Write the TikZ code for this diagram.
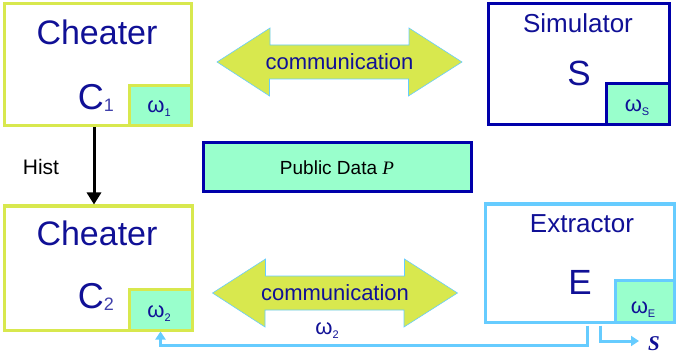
\documentclass[tikz,border=0pt]{standalone}
\usepackage{fontspec}
\setmainfont{Liberation Sans}
\newfontfamily\serifface{Liberation Serif}
\usetikzlibrary{calc, arrows.meta}
\definecolor{chgreen}{RGB}{216,232,78}
\definecolor{mint}{RGB}{153,255,204}
\definecolor{navy}{RGB}{0,0,170}
\definecolor{ink}{RGB}{16,16,150}
\definecolor{sky}{RGB}{102,204,255}
\newcommand{\fsize}[1]{\fontsize{#1}{#1}\selectfont}

\begin{document}
\begin{tikzpicture}[x=1pt, y=-1pt, line join=miter,
        box/.style = {draw, line width=3pt, fill=white, inner sep=0pt},
        keybox/.style = {draw, line width=3pt, fill=mint, inner sep=0pt, anchor=south east},
        title/.style = {text=ink, inner sep=0pt},
        commarrow/.style = {fill=chgreen, draw=sky, line width=0.6pt},
        feed/.style = {draw=sky, line width=3pt, -{Triangle[length=8pt, width=10pt]}}]
    \useasboundingbox (0,0) rectangle (676,355);

    % parties
    \node [box, draw=chgreen, minimum width=187, minimum height=122] (cheat1) at (97.5,65) {};
    \node [keybox, draw=chgreen, minimum width=62, minimum height=40] (w1) at (cheat1.south east) {};
    \node [box, draw=navy, minimum width=181, minimum height=121] (sim) at (578.5,64.5) {};
    \node [keybox, draw=navy, minimum width=63, minimum height=41] (ws) at (sim.south east) {};
    \node [box, draw=chgreen, minimum width=188, minimum height=124] (cheat2) at (98,268) {};
    \node [keybox, draw=chgreen, minimum width=63, minimum height=41] (w2) at (cheat2.south east) {};
    \node [box, draw=sky, minimum width=189, minimum height=118] (ext) at (579.5,263) {};
    \node [keybox, draw=sky, minimum width=59, minimum height=42] (we) at (ext.south east) {};
    \node [box, draw=navy, fill=mint, minimum width=268, minimum height=49] (pub) at (337,167.5)
        {\fsize{19}Public Data {\serifface\itshape P}};

    % labels
    \node [title] (cheat1t) at (97,32) {\fsize{34}Cheater};
    \node [title, anchor=base] (c1) at (96,110) {\fsize{36}C\raisebox{-2pt}{\fsize{18}\color{ink!80}1}};
    \node [title, anchor=base] (w1t) at (159,113) {\fsize{22}ω\raisebox{-4pt}{\fsize{11}1}};
    \node [title] (simt) at (578,23) {\fsize{26}Simulator};
    \node [title] (simS) at (579,73) {\fsize{35}S};
    \node [title, anchor=base] (wst) at (637,112) {\fsize{22}ω\raisebox{-4pt}{\fsize{11}S}};
    \node [title] (cheat2t) at (97,233) {\fsize{34}Cheater};
    \node [title, anchor=base] (c2) at (96,308) {\fsize{36}C\raisebox{-2pt}{\fsize{18}\color{ink!80}2}};
    \node [title, anchor=base] (w2t) at (159,317) {\fsize{22}ω\raisebox{-4pt}{\fsize{11}2}};
    \node [title] (extt) at (582,224) {\fsize{26}Extractor};
    \node [title] (extE) at (580,282) {\fsize{35}E};
    \node [title, anchor=base] (wet) at (643,313) {\fsize{22}ω\raisebox{-4pt}{\fsize{11}E}};

    % communication
    \foreach \cx/\cy/\nm in {339.5/62/comm1, 335/293/comm2} {
        \filldraw [commarrow] (\cx-122.5,\cy) -- ++(53,-34) -- ++(0,17) -- ++(139,0) -- ++(0,-17)
            -- (\cx+122.5,\cy) -- ++(-53.5,34) -- ++(0,-17) -- ++(-139,0) -- ++(0,17) -- cycle;
        \node [title] (\nm) at (\cx,\cy) {\fsize{22}communication};
    }

    % history
    \node [inner sep=0pt] (hist) at (41,167) {\fsize{21}Hist};
    \draw [line width=3pt, -{Triangle[length=12pt, width=14pt]}] ([xshift=-3.5pt]cheat1.south) -- ([xshift=-4pt]cheat2.north);

    % extraction
    \node [title, anchor=base west, inner sep=1pt, text height=14pt, text depth=0pt] (secret) at (647,350)
        {\fsize{21}\serifface\bfseries\itshape S};
    \draw [feed] ([xshift=7.5pt, yshift=-2pt]ext.south) -- ++(0,20) -| (w2.south);
    \draw [feed] ([xshift=20.5pt, yshift=-2pt]ext.south) |- ([xshift=-8pt, yshift=2pt]secret.west);
    \node [title, anchor=base] (w2lbl) at (327,334) {\fsize{22}ω\raisebox{-4pt}{\fsize{11}2}};
\end{tikzpicture}
\end{document}
